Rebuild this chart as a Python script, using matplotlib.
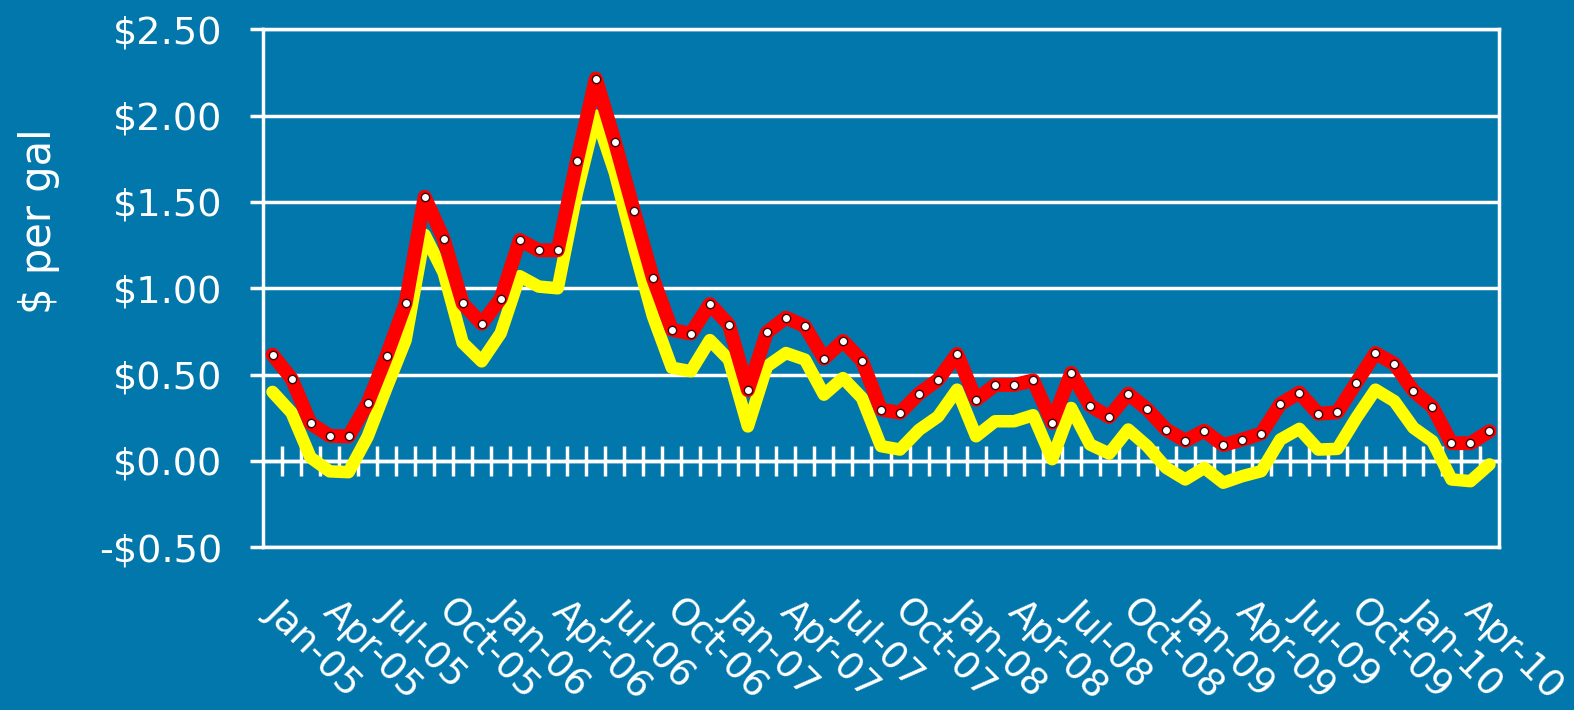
import matplotlib
matplotlib.use('Agg')
import matplotlib.pyplot as plt
import matplotlib.transforms as mtransforms
import numpy as np

bg = '#0177AC'

# monthly, Jan-05 .. May-10
red = [0.616, 0.477, 0.218, 0.146, 0.142, 0.334, 0.61, 0.912, 1.53, 1.286, 0.912, 0.795,
       0.94, 1.28, 1.22, 1.22, 1.735, 2.215, 1.85, 1.45, 1.06, 0.76, 0.737, 0.909,
       0.789, 0.41, 0.745, 0.83, 0.78, 0.593, 0.695, 0.58, 0.298, 0.279, 0.39, 0.47,
       0.62, 0.354, 0.44, 0.44, 0.467, 0.222, 0.51, 0.32, 0.255, 0.39, 0.30, 0.182,
       0.117, 0.175, 0.092, 0.124, 0.159, 0.33, 0.396, 0.273, 0.282, 0.454, 0.625, 0.562,
       0.406, 0.313, 0.103, 0.103, 0.172]
yellow = [0.40, 0.28, 0.02, -0.06, -0.065, 0.14, 0.425, 0.70, 1.31, 1.09, 0.685, 0.577,
          0.74, 1.07, 1.01, 1.00, 1.55, 2.00, 1.67, 1.24, 0.84, 0.54, 0.52, 0.70,
          0.587, 0.20, 0.548, 0.625, 0.587, 0.384, 0.48, 0.365, 0.086, 0.066, 0.18, 0.257,
          0.413, 0.143, 0.23, 0.23, 0.265, 0.01, 0.307, 0.095, 0.043, 0.182, 0.086, -0.04,
          -0.107, -0.04, -0.126, -0.088, -0.059, 0.124, 0.186, 0.066, 0.07, 0.25, 0.413, 0.346,
          0.192, 0.114, -0.107, -0.117, -0.02]
xlabels = ['Jan-05', 'Apr-05', 'Jul-05', 'Oct-05', 'Jan-06', 'Apr-06', 'Jul-06', 'Oct-06',
           'Jan-07', 'Apr-07', 'Jul-07', 'Oct-07', 'Jan-08', 'Apr-08', 'Jul-08', 'Oct-08',
           'Jan-09', 'Apr-09', 'Jul-09', 'Oct-09', 'Jan-10', 'Apr-10']
yticks = [-0.5, 0.0, 0.5, 1.0, 1.5, 2.0, 2.5]

x = np.arange(len(red))

fig = plt.figure(figsize=(15.74, 7.10), dpi=100, facecolor=bg)
ax = fig.add_axes([263/1574, 1 - 547.3/710, (1499 - 263)/1574, (547.3 - 29.3)/710])
ax.set_facecolor(bg)

ax.plot(x, yellow, color='#FFFF00', lw=9, solid_joinstyle='round', solid_capstyle='round', zorder=3)
ax.plot(x, red, color='#FF0000', lw=10, solid_joinstyle='round', solid_capstyle='round',
        marker='o', ms=6, mfc='white', mec='#3a0000', mew=1.0, zorder=4)

ax.set_xlim(-0.5, len(red) - 0.5)
ax.set_ylim(-0.5, 2.5)
ax.set_yticks(yticks)
ax.set_yticklabels([('-$%.2f' % -v) if v < 0 else ('$%.2f' % v) for v in yticks])
ax.grid(axis='y', color='white', lw=2.5)
ax.set_axisbelow(True)

for s in ax.spines.values():
    s.set_color('white')
    s.set_linewidth(2.5)

ax.tick_params(axis='y', colors='white', direction='out', length=9.5, width=2.5,
               labelsize=27.5, pad=20)
ax.set_xticks(x[::3])
ax.set_xticklabels(xlabels, rotation=-45, ha='left', va='top', rotation_mode='anchor')
ax.tick_params(axis='x', colors='white', length=0, labelsize=27, pad=33)
shift = mtransforms.ScaledTranslation(0.12, 0, fig.dpi_scale_trans)
for lab in ax.get_xticklabels():
    lab.set_transform(lab.get_transform() + shift)

# category ticks on the zero line
zero = ax.secondary_xaxis((0 - (-0.5)) / 3.0)
zero.set_xticks(np.arange(0.5, len(red) - 1, 1.0))
zero.tick_params(axis='x', direction='inout', length=21, width=2.5, color='white',
                 labelbottom=False)
zero.spines['bottom'].set_color('white')
zero.spines['bottom'].set_linewidth(2.5)

fig.text(39/1574, 1 - 221/710, '$ per gal', rotation=90, color='white', fontsize=30,
         ha='center', va='center')

fig.savefig('out.png', dpi=100, facecolor=bg)
